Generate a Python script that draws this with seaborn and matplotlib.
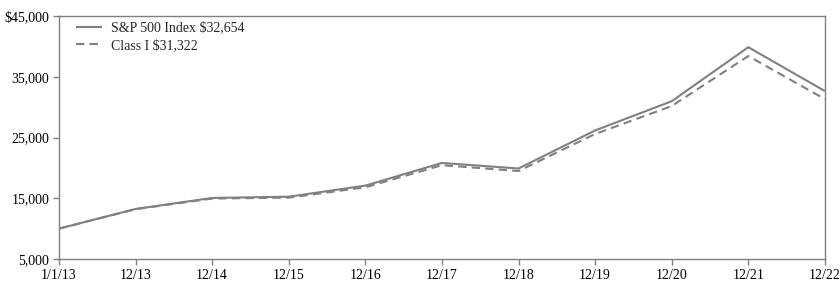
import matplotlib
matplotlib.use("Agg")
import matplotlib.pyplot as plt
import seaborn as sns
import pandas as pd
from matplotlib.ticker import FuncFormatter

dates = ["1/1/13", "12/13", "12/14", "12/15", "12/16", "12/17", "12/18", "12/19", "12/20", "12/21", "12/22"]
sp500 = [10000, 13239, 15051, 15259, 17084, 20813, 19901, 26166, 30981, 39874, 32654]
class_i = [10000, 13200, 14950, 15100, 16800, 20450, 19480, 25580, 30180, 38420, 31322]
labels = ["S&P 500 Index $32,654", "Class I $31,322"]

sns.set_theme(style="white")
plt.rcParams['font.family'] = ['Liberation Serif', 'DejaVu Serif']

df = pd.DataFrame({
    "x": list(range(len(dates))) * 2,
    "value": sp500 + class_i,
    "series": [labels[0]] * len(dates) + [labels[1]] * len(dates),
})

fig = plt.figure(figsize=(8.4, 2.87), dpi=100)
ax = fig.add_axes([0.0702, 0.0976, 0.9118, 0.8464])
sns.lineplot(data=df, x="x", y="value", hue="series", style="series",
             palette=["#808080", "#808080"], dashes=[(1, 0), (4, 2.5)],
             linewidth=1.5, ax=ax)

ax.set_xlim(0, len(dates) - 1)
ax.set_ylim(5000, 45000)
ax.set_xticks(range(len(dates)))
ax.set_xticklabels(dates)
ax.set_yticks([5000, 15000, 25000, 35000, 45000])
ax.yaxis.set_major_formatter(FuncFormatter(lambda v, p: ("$" if v == 45000 else "") + f"{int(v):,}"))
ax.set_xlabel("")
ax.set_ylabel("")
for s in ax.spines.values():
    s.set_color("#808080")
    s.set_linewidth(1.0)
ax.tick_params(axis="both", which="major", length=4, width=1, color="#808080",
               direction="out", labelsize=10, labelcolor="black", pad=3)
ax.tick_params(axis="x", bottom=True)
ax.tick_params(axis="y", left=True)

leg = ax.legend(loc="upper left", frameon=False, fontsize=10, handlelength=1.9,
                handletextpad=0.6, borderaxespad=0.0, labelspacing=0.3,
                bbox_to_anchor=(0.015, 1.0))
for h in leg.get_lines():
    h.set_linewidth(1.5)

fig.savefig("out.png", dpi=100)
